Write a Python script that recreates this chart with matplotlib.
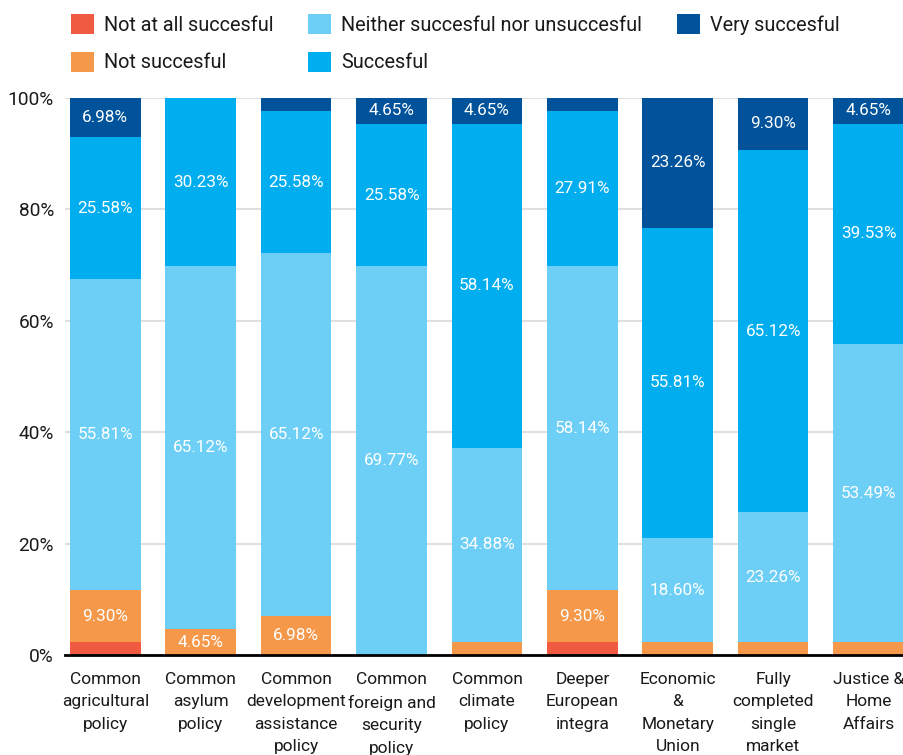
import numpy as np
import matplotlib
matplotlib.use("Agg")
import matplotlib.pyplot as plt
from matplotlib.patches import Patch

categories = [
    "Common\nagricultural\npolicy",
    "Common\nasylum\npolicy",
    "Common\ndevelopment\nassistance\npolicy",
    "Common\nforeign and\nsecurity\npolicy",
    "Common\nclimate\npolicy",
    "Deeper\nEuropean\nintegra",
    "Economic\n&\nMonetary\nUnion",
    "Fully\ncompleted\nsingle\nmarket",
    "Justice &\nHome\nAffairs",
]

not_at_all = [2.33, 0, 0, 0, 0, 2.33, 0, 0, 0]
not_succ = [9.30, 4.65, 6.98, 0, 2.33, 9.30, 2.33, 2.33, 2.33]
neither = [55.81, 65.12, 65.12, 69.77, 34.88, 58.14, 18.60, 23.26, 53.49]
succ = [25.58, 30.23, 25.58, 25.58, 58.14, 27.91, 55.81, 65.12, 39.53]
very = [6.98, 0, 2.33, 4.65, 4.65, 2.33, 23.26, 9.30, 4.65]

series_names = ["Not at all succesful", "Not succesful",
                "Neither succesful nor unsuccesful", "Succesful", "Very succesful"]
colors = ["#f05a40", "#f5984a", "#6dcff6", "#00aeef", "#00539b"]

font = ["Roboto", "DejaVu Sans"]

fig = plt.figure(figsize=(9.04, 7.55), dpi=100)
ax = fig.add_axes([65 / 904, 100 / 755, 1 - 65 / 904, 557 / 755])

x = np.arange(len(categories))
width = 0.74
bottom = np.zeros(len(categories))
for vals, name, col in zip([not_at_all, not_succ, neither, succ, very], series_names, colors):
    vals = np.array(vals)
    ax.bar(x, vals, width, bottom=bottom, color=col, label=name, zorder=2)
    for xi, v, b in zip(x, vals, bottom):
        if v > 3:
            ax.text(xi, b + v / 2, "%.2f%%" % v, ha="center", va="center",
                    color="white", fontsize=12.3, family=font, zorder=3)
    bottom += vals

ax.set_ylim(0, 100)
ax.set_xlim(-0.423, 8.371)
ax.set_yticks([0, 20, 40, 60, 80, 100])
ax.set_yticklabels(["0%", "20%", "40%", "60%", "80%", "100%"], family=font, fontsize=13.8,
                   color="#1a1a1a")
ax.yaxis.grid(True, color="#e0e0e0", linewidth=1.5, zorder=0)
ax.set_axisbelow(True)

# category names drawn as annotations so the line spacing sticks
ax.set_xticks(x)
ax.set_xticklabels([])
for xi, cat in zip(x, categories):
    ax.annotate(cat, xy=(xi, 0), xycoords=("data", "axes fraction"),
                xytext=(0, -12), textcoords="offset points",
                ha="center", va="top", multialignment="center",
                fontsize=12.5, family=font, color="#1a1a1a", linespacing=1.62,
                annotation_clip=False)

ax.tick_params(axis="both", length=0)
ax.tick_params(axis="y", pad=8)
for s in ["top", "right", "left"]:
    ax.spines[s].set_visible(False)
ax.spines["bottom"].set_color("black")
ax.spines["bottom"].set_linewidth(2)
ax.spines["bottom"].set_zorder(4)

# legend: 23px squares, two rows, filled column by column
handles = [Patch(facecolor=c, label=n) for n, c in zip(series_names, colors)]
fig.legend(handles=handles, ncol=3, loc="upper left", bbox_to_anchor=(71 / 904, 1 - 14 / 755),
           frameon=False, prop={"family": font, "size": 14.3}, borderpad=0, borderaxespad=0,
           handlelength=1.16, handleheight=1.16, handletextpad=0.5,
           columnspacing=1.75, labelspacing=0.86, labelcolor="#1a1a1a")

fig.savefig("out.png", dpi=100)
